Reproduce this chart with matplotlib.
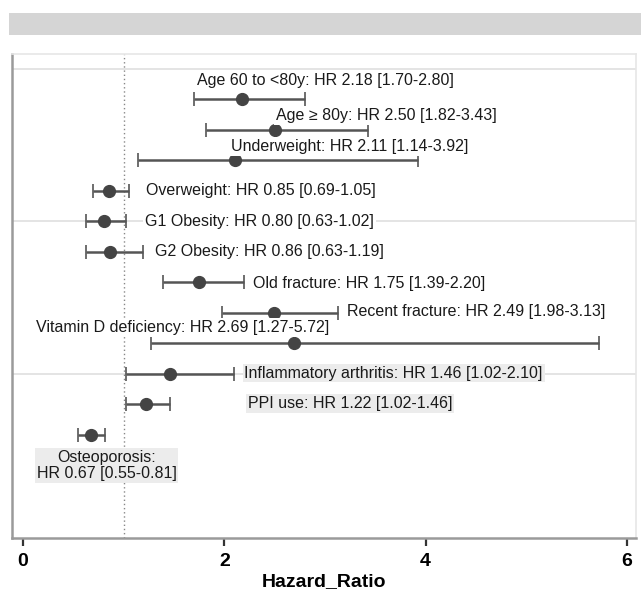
import matplotlib
matplotlib.use("Agg")
from matplotlib import pyplot as plt
from matplotlib.patches import Rectangle

plt.rcParams["font.family"] = ["Liberation Sans", "DejaVu Sans"]

# Hazard ratios with 95% confidence limits, one row per risk factor
factors = [
    "Age 60 to <80y",
    "Age \u2265 80y",
    "Underweight",
    "Overweight",
    "G1 Obesity",
    "G2 Obesity",
    "Old fracture",
    "Recent fracture",
    "Vitamin D deficiency",
    "Inflammatory arthritis",
    "PPI use",
    "Osteoporosis",
]
hr = [2.18, 2.50, 2.11, 0.85, 0.80, 0.86, 1.75, 2.49, 2.69, 1.46, 1.22, 0.67]
ci_low = [1.70, 1.82, 1.14, 0.69, 0.63, 0.63, 1.39, 1.98, 1.27, 1.02, 1.02, 0.55]
ci_high = [2.80, 3.43, 3.92, 1.05, 1.02, 1.19, 2.20, 3.13, 5.72, 2.10, 1.46, 0.81]
x_ticks = [0, 2, 4, 6]

# where each label sits: left x (data units) and shift from its row
label_x = [1.73, 2.51, 2.07, 1.22, 1.21, 1.31, 2.28, 3.22, 0.13, 2.2, 2.23, 0.83]
label_dy = [-0.62, -0.48, -0.47, 0.0, 0.0, 0.0, 0.05, -0.05, -0.52, -0.03, -0.03, 1.0]
shaded = {"Inflammatory arthritis", "PPI use", "Osteoporosis"}

rows = list(range(1, len(factors) + 1))

fig = plt.figure(figsize=(6.41, 5.92), dpi=100)
fig.patches.append(Rectangle((9 / 641, 1 - 35 / 592), 1, 22 / 592,
                             transform=fig.transFigure, facecolor="#d5d5d5",
                             edgecolor="none"))
ax = fig.add_axes([12 / 641, 1 - 538 / 592, 624 / 641, 484 / 592])

ax.set_xlim(-0.11, 6.09)
ax.set_ylim(15.38, -0.49)

for gy in [0, 5, 10]:
    ax.axhline(gy, color="#e2e2e2", lw=1.3, zorder=0)
ax.axvline(1, color="#888888", lw=1, ls=(0, (1, 2)), zorder=1)

ax.errorbar(hr, rows,
            xerr=[[h - l for h, l in zip(hr, ci_low)],
                  [u - h for h, u in zip(hr, ci_high)]],
            fmt="o", color="#444444", ecolor="#555555", elinewidth=1.8,
            capsize=5, capthick=1.2, markersize=8.5, zorder=3)

for i, name in enumerate(factors):
    sep = ":\n" if name == "Osteoporosis" else ": "
    text = f"{name}{sep}HR {hr[i]:.2f} [{ci_low[i]:.2f}-{ci_high[i]:.2f}]"
    is_shaded = name in shaded
    ax.text(label_x[i], rows[i] + label_dy[i], text,
            fontsize=11.5, color="#1a1a1a",
            ha="center" if name == "Osteoporosis" else "left", va="center",
            multialignment="center", linespacing=1.05,
            bbox=dict(boxstyle="square,pad=0.12",
                      facecolor="#ececec" if is_shaded else "white",
                      edgecolor="none"),
            zorder=4)

for side in ["top", "right"]:
    ax.spines[side].set_color("#e6e6e6")
    ax.spines[side].set_linewidth(1.2)
for side in ["left", "bottom"]:
    ax.spines[side].set_color("#9a9a9a")
    ax.spines[side].set_linewidth(1.8)

ax.set_yticks([])
ax.set_xticks(x_ticks)
ax.tick_params(axis="x", direction="out", length=6, width=1.6,
               color="#333333", pad=5, labelsize=14)
for lbl in ax.get_xticklabels():
    lbl.set_fontweight("bold")
ax.set_xlabel("Hazard_Ratio", fontsize=14, fontweight="bold", labelpad=2)

plt.savefig("out.png", dpi=100)
